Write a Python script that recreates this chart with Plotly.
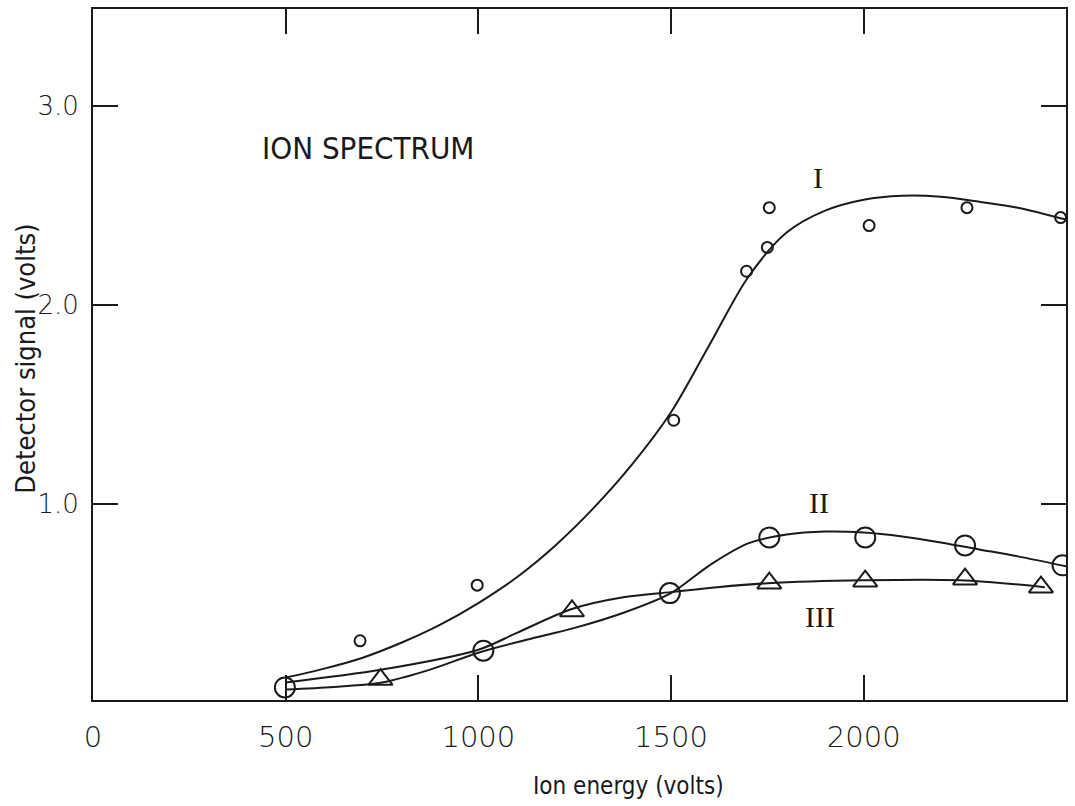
import plotly.graph_objects as go

# ---- data ----
# Series I (small open circles)
s1_x = [693, 997, 1507, 1696, 1750, 1755, 2014, 2268, 2511]
s1_y = [0.31, 0.59, 1.42, 2.17, 2.29, 2.49, 2.40, 2.49, 2.44]
# Series II (large open circles)
s2_x = [498, 1013, 1497, 1755, 2004, 2263, 2516]
s2_y = [0.075, 0.26, 0.55, 0.83, 0.83, 0.79, 0.69]
# Series III (open triangles)
s3_x = [746, 1243, 1755, 2004, 2263, 2460]
s3_y = [0.115, 0.46, 0.60, 0.61, 0.62, 0.58]

# Hand-drawn smooth curves
c1_x = [500, 600, 700, 800, 900, 1000, 1100, 1200, 1300, 1400, 1500, 1600,
        1700, 1800, 1900, 2000, 2100, 2200, 2300, 2400, 2525]
c1_y = [0.125, 0.17, 0.225, 0.30, 0.39, 0.50, 0.63, 0.79, 0.98, 1.20, 1.46, 1.80,
        2.14, 2.365, 2.475, 2.53, 2.55, 2.545, 2.52, 2.49, 2.43]
c2_x = [500, 625, 750, 875, 1000, 1125, 1250, 1375, 1500, 1600, 1700, 1800, 1900,
        2000, 2100, 2200, 2300, 2400, 2525]
c2_y = [0.065, 0.078, 0.10, 0.165, 0.25, 0.315, 0.375, 0.45, 0.55, 0.69, 0.80, 0.845, 0.86,
        0.855, 0.835, 0.805, 0.77, 0.735, 0.685]
c3_x = [500, 750, 1000, 1100, 1243, 1380, 1500, 1620, 1750, 2000, 2250, 2470]
c3_y = [0.10, 0.165, 0.265, 0.35, 0.47, 0.53, 0.555, 0.58, 0.60, 0.615, 0.615, 0.58]

x_ticks = [0, 500, 1000, 1500, 2000]
x_tick_text = ["0", "500", "1000", "1500", "2000"]
y_ticks = [1, 2, 3]
y_tick_text = ["1.0", "2.0", "3.0"]

INK = "#1a1a1a"
NARROW = "Liberation Sans Narrow, DejaVu Sans Condensed, Arial Narrow, sans-serif"
TICKF = "DejaVu Sans, sans-serif"

fig = go.Figure()
for cx, cy in [(c1_x, c1_y), (c2_x, c2_y), (c3_x, c3_y)]:
    fig.add_trace(go.Scatter(x=cx, y=cy, mode="lines",
                             line=dict(color=INK, width=2, shape="spline", smoothing=0.9),
                             hoverinfo="skip", showlegend=False))

fig.add_trace(go.Scatter(x=s1_x, y=s1_y, mode="markers",
                         marker=dict(symbol="circle-open", size=11, color=INK,
                                     line=dict(color=INK, width=2)), showlegend=False))
fig.add_trace(go.Scatter(x=s2_x, y=s2_y, mode="markers",
                         marker=dict(symbol="circle-open", size=20, color=INK,
                                     line=dict(color=INK, width=2)), showlegend=False))
fig.add_trace(go.Scatter(x=s3_x, y=s3_y, mode="markers",
                         marker=dict(symbol="triangle-up-open", size=21, color=INK,
                                     line=dict(color=INK, width=2)), showlegend=False))

ann = [
    dict(x=713, y=2.79, text="ION SPECTRUM", font=dict(family=NARROW, size=31, color=INK)),
    dict(x=1882, y=2.64, text="I", font=dict(family="Liberation Serif, serif", size=30, color=INK)),
    dict(x=1885, y=1.005, text="II", font=dict(family="Liberation Serif, serif", size=30, color=INK)),
    dict(x=1887, y=0.43, text="III", font=dict(family="Liberation Serif, serif", size=30, color=INK)),
]
for a in ann:
    fig.add_annotation(xref="x", yref="y", showarrow=False, **a)

fig.add_annotation(xref="paper", yref="paper", x=(630 - 93) / (1068 - 93), y=-(786 - 700) / 692,
                   text="Ion energy (volts)", showarrow=False,
                   font=dict(family=NARROW, size=24, color=INK), yanchor="middle")
fig.add_annotation(xref="paper", yref="paper", x=-(93 - 25) / (1068 - 93), y=(700 - 358) / 692,
                   text="Detector signal (volts)", showarrow=False, textangle=-90,
                   font=dict(family=NARROW, size=27, color=INK), xanchor="center", yanchor="middle")

fig.update_layout(
    width=1075, height=806,
    margin=dict(l=93, r=7, t=8, b=106),
    paper_bgcolor="white", plot_bgcolor="white",
    showlegend=False,
    xaxis=dict(range=[0, 2525], tickvals=x_ticks, ticktext=x_tick_text,
               ticks="inside", ticklen=25, tickwidth=2, tickcolor=INK,
               showline=True, linewidth=2, linecolor=INK, mirror="ticks",
               showgrid=False, zeroline=False, ticklabelstandoff=10,
               tickfont=dict(family=TICKF, size=29, color=INK, weight=200)),
    yaxis=dict(range=[0.012, 3.49], tickvals=y_ticks, ticktext=y_tick_text,
               ticks="inside", ticklen=25, tickwidth=2, tickcolor=INK,
               showline=True, linewidth=2, linecolor=INK, mirror="ticks",
               showgrid=False, zeroline=False, ticklabelstandoff=7,
               tickfont=dict(family=TICKF, size=26, color=INK, weight=200)),
)

fig.write_html("out.html")
